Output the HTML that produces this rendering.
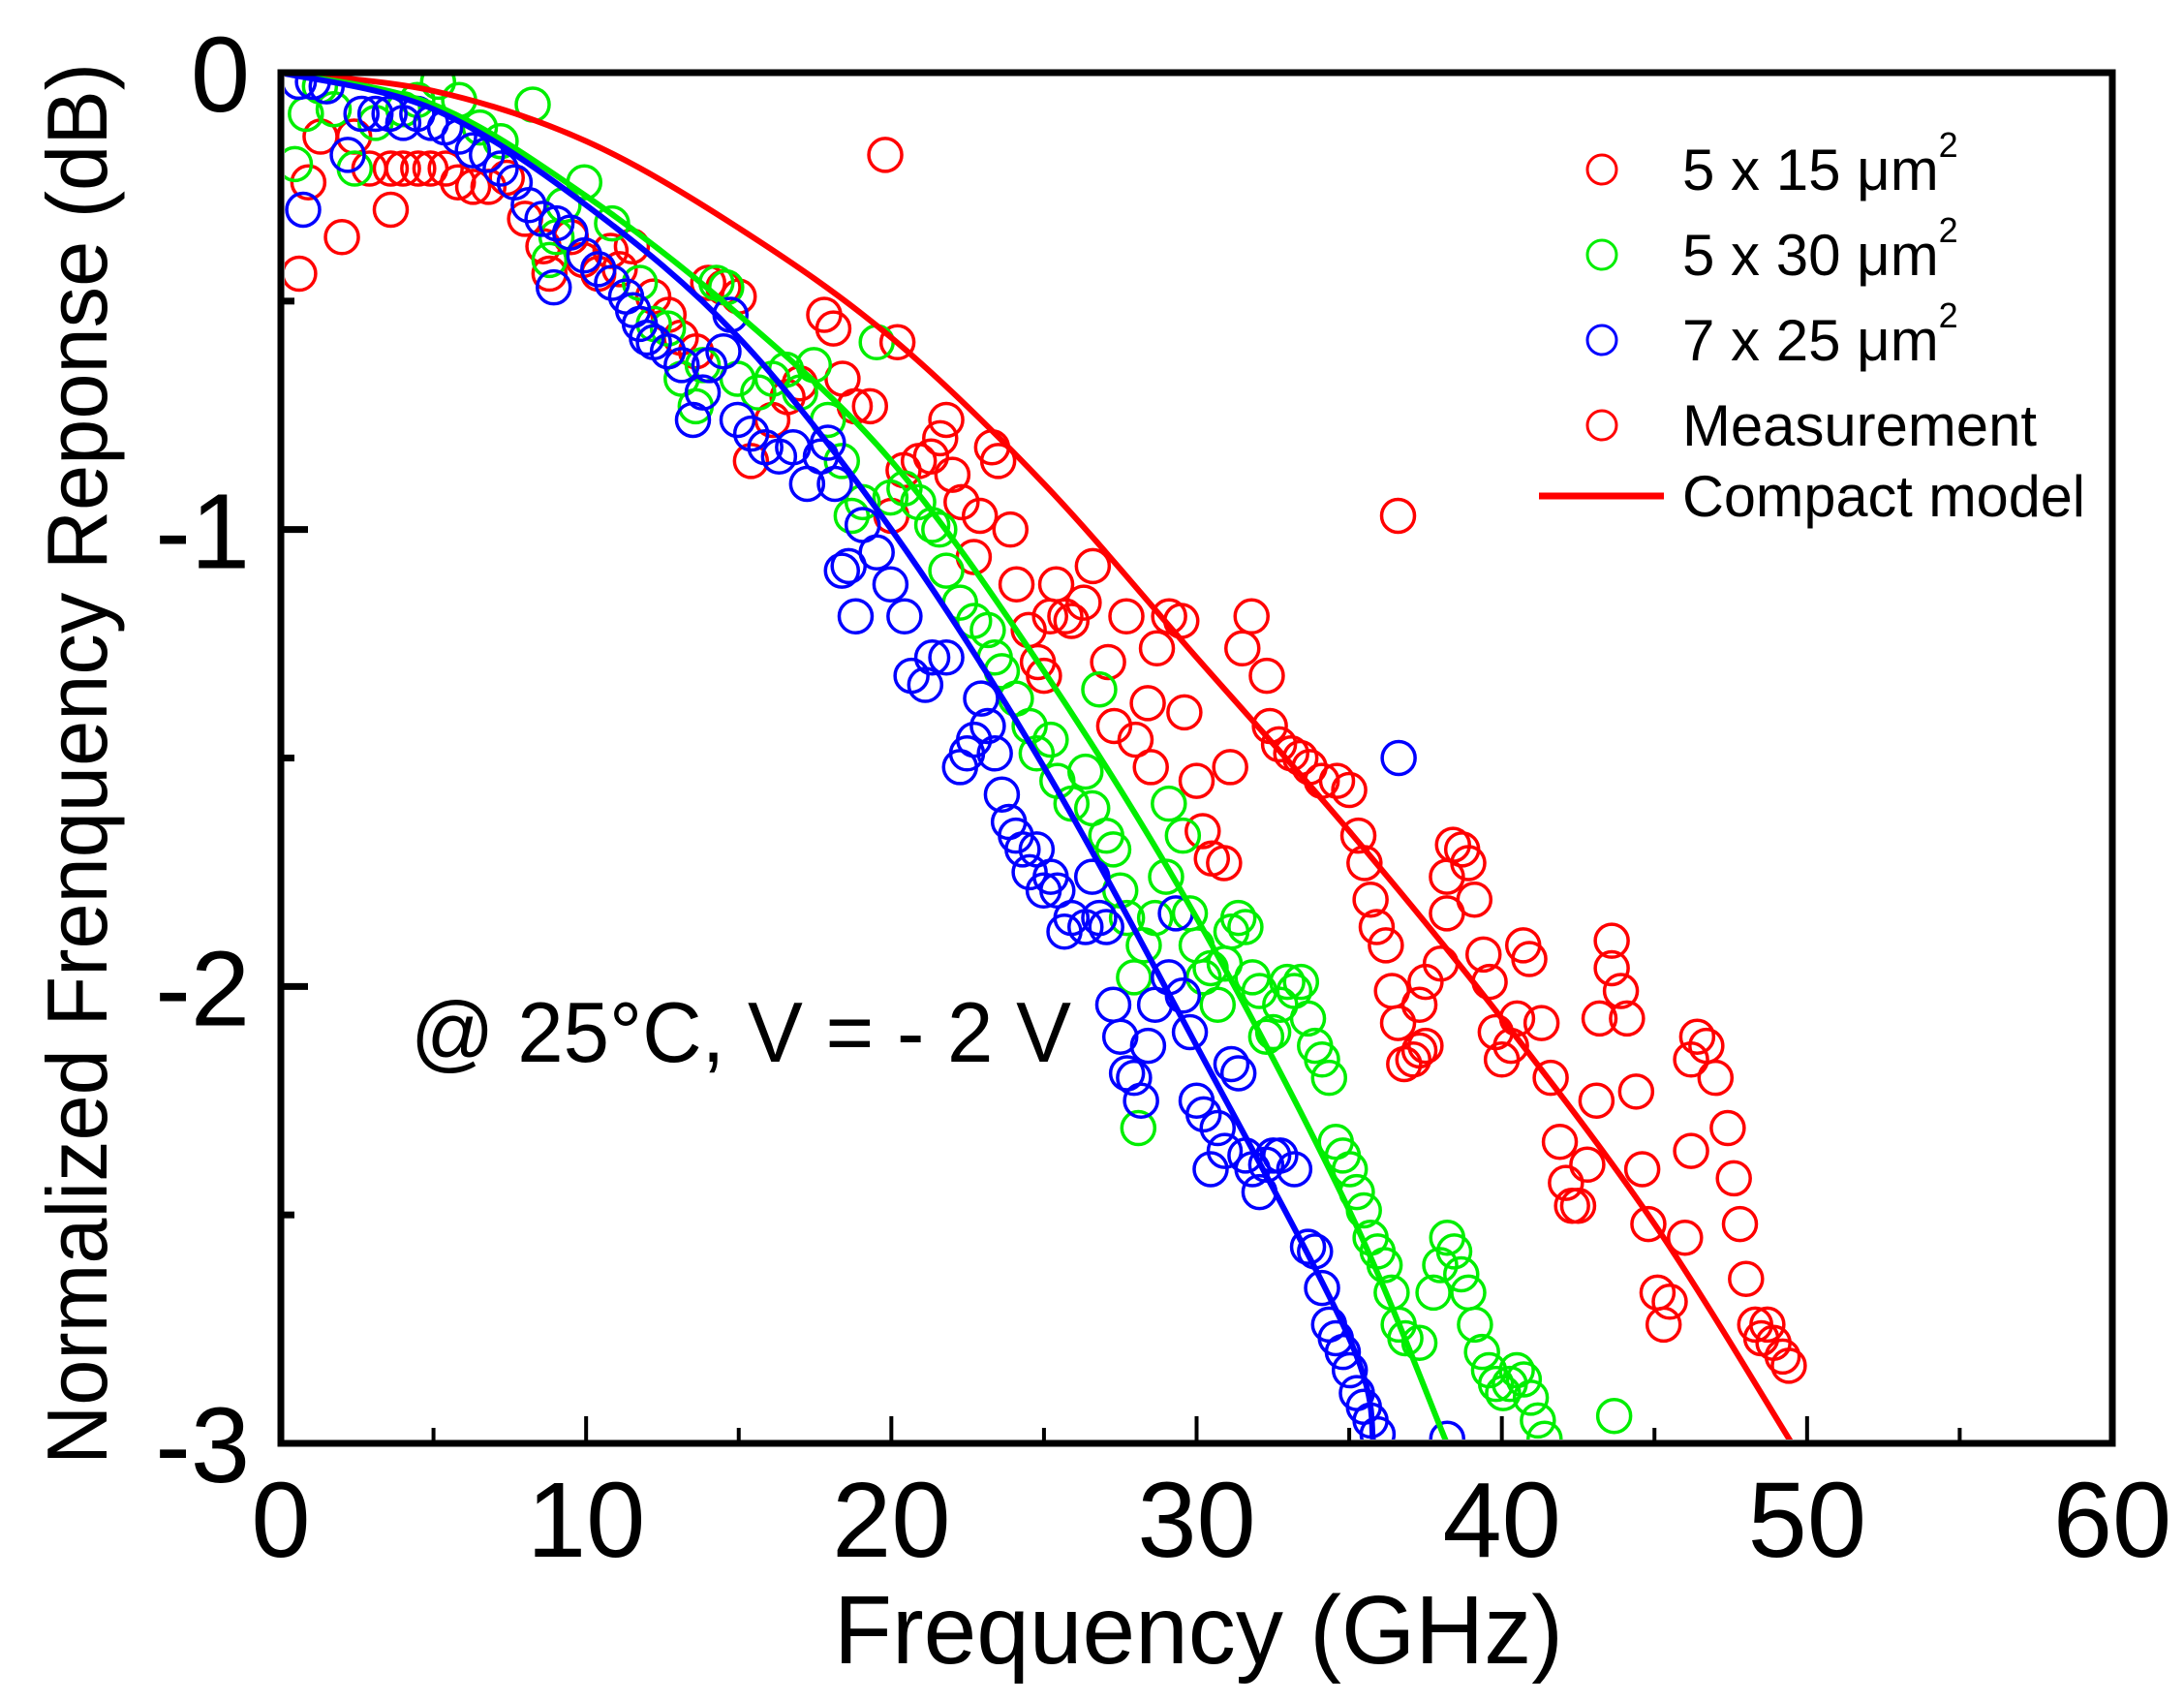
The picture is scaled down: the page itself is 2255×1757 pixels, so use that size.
<!DOCTYPE html>
<html><head><meta charset="utf-8"><title>Normalized Frequency Response</title>
<style>html,body{margin:0;padding:0;background:#fff}svg{display:block}</style></head>
<body>
<svg id="chart" xmlns="http://www.w3.org/2000/svg" width="2255" height="1757" viewBox="0 0 2255 1757" font-family="Liberation Sans, Arial, sans-serif">
<defs><clipPath id="plotclip"><rect x="294" y="78" width="1883" height="1408"/></clipPath></defs>
<rect x="0" y="0" width="2255" height="1757" fill="#fff"/>
<g id="marks" clip-path="url(#plotclip)"></g>
<g id="axes"></g>
<text x="861" y="1717" font-size="100" textLength="753" lengthAdjust="spacingAndGlyphs">Frequency (GHz)</text>
<text transform="translate(110,1512) rotate(-90)" x="0" y="0" font-size="88" textLength="1447" lengthAdjust="spacingAndGlyphs">Normalized Frenquency Reponse (dB)</text>
<text x="424" y="1096" font-size="88" textLength="682" lengthAdjust="spacingAndGlyphs">@ 25°C, V = - 2 V</text>
<g font-size="60">
 <g><circle cx="1654" cy="175" r="15" fill="none" stroke="#ff0000" stroke-width="3"/><text x="1737" y="196">5 x 15 μm<tspan font-size="36" dy="-34">2</tspan></text></g>
 <g><circle cx="1654" cy="263" r="15" fill="none" stroke="#00ee00" stroke-width="3"/><text x="1737" y="284">5 x 30 μm<tspan font-size="36" dy="-34">2</tspan></text></g>
 <g><circle cx="1654" cy="351" r="15" fill="none" stroke="#0000ff" stroke-width="3"/><text x="1737" y="372">7 x 25 μm<tspan font-size="36" dy="-34">2</tspan></text></g>
 <g><circle cx="1654" cy="439" r="15" fill="none" stroke="#ff0000" stroke-width="3"/><text x="1737" y="460" textLength="366" lengthAdjust="spacingAndGlyphs">Measurement</text></g>
 <g><line x1="1589" y1="512" x2="1718" y2="512" stroke="#ff0000" stroke-width="7"/><text x="1737" y="533" textLength="416" lengthAdjust="spacingAndGlyphs">Compact model</text></g>
</g>
</svg>
<script>
const xTicks=[0,10,20,30,40,50,60];
const yTicks=[0,-1,-2,-3];
const yTickLabels=["0","-1","-2","-3"];
const redF=[0.9,0.6,1.3,2.0,2.4,2.9,3.6,3.6,4.0,4.5,4.9,5.4,5.8,6.3,6.8,7.4,8.0,8.6,8.8,9.5,9.9,10.4,10.8,11.1,11.5,12.2,12.7,13.1,13.6,14.0,14.5,15.0,15.4,16.1,16.6,17.0,17.8,18.1,18.4,18.8,19.3,19.8,20.2,20.0,20.4,20.9,21.3,21.6,21.8,22.0,22.3,22.7,22.9,23.3,23.5,23.9,24.1,24.5,24.8,25.0,25.2,25.4,25.7,25.9,26.3,26.6,27.1,27.3,27.7,28.0,28.4,28.5,28.7,29.1,29.5,29.6,30.0,30.2,30.5,30.9,31.1,31.5,31.8,32.3,32.4,32.7,33.1,33.4,33.7,34.1,34.6,35.0,35.3,35.5,35.7,35.9,36.2,36.4,36.6,36.8,37.1,37.3,37.5,37.3,37.5,38.0,38.2,38.4,38.2,38.7,38.9,39.1,39.4,39.6,39.8,40.0,40.3,40.5,40.7,40.9,41.3,41.6,41.9,42.1,42.3,42.5,42.8,43.1,43.2,43.6,43.6,43.9,44.1,44.4,44.6,44.8,45.1,45.3,45.5,46.0,46.2,46.2,46.4,46.7,47.0,47.4,47.6,47.8,48.0,48.3,48.5,48.7,48.9,49.2,49.4,36.6];
const redD=[-0.24,-0.44,-0.14,-0.36,-0.14,-0.21,-0.21,-0.30,-0.21,-0.21,-0.21,-0.21,-0.24,-0.25,-0.25,-0.23,-0.32,-0.38,-0.44,-0.36,-0.41,-0.44,-0.39,-0.43,-0.38,-0.49,-0.53,-0.58,-0.61,-0.46,-0.47,-0.49,-0.85,-0.76,-0.71,-0.68,-0.53,-0.56,-0.67,-0.73,-0.73,-0.18,-0.59,-0.97,-0.87,-0.85,-0.84,-0.80,-0.76,-0.88,-0.94,-1.06,-0.97,-0.82,-0.85,-1.00,-1.12,-1.22,-1.29,-1.32,-1.19,-1.12,-1.19,-1.20,-1.16,-1.08,-1.29,-1.43,-1.19,-1.46,-1.38,-1.52,-1.26,-1.19,-1.20,-1.40,-1.55,-1.66,-1.72,-1.73,-1.52,-1.26,-1.19,-1.32,-1.43,-1.47,-1.49,-1.50,-1.52,-1.55,-1.55,-1.57,-1.67,-1.73,-1.81,-1.87,-1.91,-2.01,-2.08,-2.17,-2.16,-2.14,-2.13,-2.04,-1.99,-1.95,-1.84,-1.69,-1.76,-1.70,-1.73,-1.81,-1.93,-1.99,-2.10,-2.16,-2.13,-2.07,-1.91,-1.94,-2.08,-2.20,-2.34,-2.43,-2.48,-2.48,-2.39,-2.25,-2.07,-1.90,-1.96,-2.01,-2.07,-2.23,-2.40,-2.52,-2.67,-2.74,-2.69,-2.55,-2.36,-2.16,-2.11,-2.13,-2.20,-2.31,-2.42,-2.52,-2.64,-2.74,-2.77,-2.74,-2.78,-2.81,-2.83,-0.97];
const greenF=[0.46,0.82,1.28,1.73,2.42,3.10,4.01,4.47,5.15,5.84,6.52,7.20,8.25,8.80,9.03,9.26,9.94,10.85,11.76,12.22,12.68,13.13,13.59,13.82,14.27,14.59,14.96,15.64,16.10,16.55,17.01,17.46,17.92,18.38,18.70,19.06,19.52,19.97,20.43,20.88,21.34,21.57,21.80,22.25,22.71,23.16,23.39,23.62,24.08,24.53,24.76,25.22,25.44,25.90,26.36,26.58,26.81,27.04,27.27,27.50,27.72,27.95,28.09,28.27,28.64,29.00,29.09,29.55,29.78,30.00,30.23,30.46,30.69,30.92,31.14,31.37,31.60,31.83,32.06,32.28,32.51,32.74,32.97,33.20,33.42,33.65,33.88,34.11,34.34,34.56,34.79,35.02,35.25,35.48,35.70,35.93,36.16,36.39,36.62,36.84,37.30,37.76,37.98,38.21,38.44,38.67,38.90,39.12,39.35,39.58,39.81,40.04,40.26,40.49,40.72,40.95,41.18,41.40,43.68];
const greenD=[-0.20,-0.09,-0.03,-0.08,-0.21,-0.11,-0.08,-0.06,-0.02,-0.06,-0.12,-0.15,-0.07,-0.41,-0.36,-0.29,-0.24,-0.33,-0.46,-0.55,-0.56,-0.67,-0.73,-0.64,-0.46,-0.47,-0.67,-0.70,-0.67,-0.65,-0.70,-0.64,-0.76,-0.85,-0.97,-0.94,-0.59,-0.93,-0.91,-0.94,-0.99,-1.00,-1.09,-1.16,-1.20,-1.22,-1.28,-1.31,-1.37,-1.43,-1.49,-1.46,-1.55,-1.60,-1.53,-1.61,-1.35,-1.67,-1.70,-1.79,-1.85,-1.98,-2.31,-1.91,-1.85,-1.76,-1.60,-1.67,-1.84,-1.91,-1.98,-1.96,-2.04,-1.95,-1.88,-1.85,-1.87,-1.98,-2.01,-2.11,-2.10,-2.04,-1.99,-2.01,-1.99,-2.07,-2.13,-2.16,-2.20,-2.34,-2.37,-2.40,-2.45,-2.49,-2.55,-2.58,-2.61,-2.67,-2.74,-2.77,-2.78,-2.67,-2.61,-2.55,-2.58,-2.63,-2.67,-2.74,-2.80,-2.84,-2.87,-2.89,-2.87,-2.84,-2.86,-2.90,-2.95,-2.99,-2.94];
const blueF=[0.59,0.73,1.05,1.50,2.19,2.64,3.10,3.56,4.01,4.47,4.92,5.38,5.84,6.29,6.75,7.20,7.66,8.12,8.57,8.94,9.03,9.48,9.94,10.40,10.85,11.31,11.54,11.76,11.99,12.22,12.68,13.13,13.50,13.82,14.04,14.50,14.73,14.96,15.41,15.87,16.32,16.78,17.24,17.69,17.92,18.15,18.38,18.60,18.83,19.06,19.52,19.97,20.43,20.66,21.11,21.34,21.80,22.25,22.48,22.71,22.94,23.16,23.39,23.62,23.85,24.08,24.30,24.53,24.76,24.99,25.22,25.44,25.67,25.90,26.36,26.58,26.81,27.04,27.27,27.50,27.72,27.95,28.18,28.41,28.64,29.09,29.32,29.55,29.78,30.00,30.23,30.46,30.69,30.92,31.14,31.37,31.60,31.83,32.06,32.28,32.51,32.74,33.20,33.65,33.88,34.11,34.34,34.56,34.79,35.02,35.25,35.48,35.70,35.93,36.62,38.21];
const blueD=[-0.02,-0.30,-0.02,-0.03,-0.18,-0.09,-0.09,-0.09,-0.11,-0.09,-0.11,-0.12,-0.14,-0.17,-0.18,-0.21,-0.24,-0.29,-0.32,-0.47,-0.33,-0.35,-0.40,-0.43,-0.46,-0.49,-0.52,-0.55,-0.58,-0.59,-0.61,-0.64,-0.76,-0.70,-0.64,-0.61,-0.53,-0.76,-0.79,-0.82,-0.84,-0.82,-0.90,-0.84,-0.81,-0.90,-1.09,-1.08,-1.19,-0.99,-1.05,-1.12,-1.19,-1.32,-1.34,-1.28,-1.28,-1.52,-1.49,-1.46,-1.37,-1.43,-1.49,-1.58,-1.64,-1.67,-1.70,-1.75,-1.70,-1.79,-1.76,-1.79,-1.88,-1.85,-1.87,-1.76,-1.85,-1.87,-2.04,-2.11,-2.19,-2.20,-2.25,-2.13,-2.04,-1.98,-1.84,-2.02,-2.10,-2.25,-2.28,-2.40,-2.31,-2.36,-2.17,-2.19,-2.37,-2.40,-2.45,-2.39,-2.37,-2.37,-2.40,-2.57,-2.58,-2.66,-2.74,-2.77,-2.80,-2.84,-2.89,-2.92,-2.95,-2.98,-1.50,-2.99];
const redModelF=[0,5,10,15,20,25,30,35,40,45,49.5];
const redModelD=[0,-0.04,-0.15,-0.34,-0.58,-0.90,-1.28,-1.66,-2.07,-2.52,-3.0];
const greenModelF=[0,5,10,15,20,25,30,35,38.2];
const greenModelD=[0,-0.07,-0.27,-0.53,-0.85,-1.31,-1.85,-2.49,-3.0];
const blueModelF=[0,5,10,15,20,25,30,35,35.8];
const blueModelD=[0,-0.08,-0.29,-0.58,-1.0,-1.52,-2.13,-2.77,-3.0];

const NS='http://www.w3.org/2000/svg';
const X0=290,X1=2181,Y0=75,Y1=1490;
function xs(f){return X0+(f-0)/(60-0)*(X1-X0);}
function ys(d){return Y0+(0-d)/(0-(-3))*(Y1-Y0);}
function mk(tag,attrs,parent){const e=document.createElementNS(NS,tag);for(const k in attrs)e.setAttribute(k,attrs[k]);parent.appendChild(e);return e;}
const marks=document.getElementById('marks');
const axes=document.getElementById('axes');

function scatter(F,D,color,name){
  const g=mk('g',{},marks);
  
  
  for(let i=0;i<F.length;i++){
    const c=mk('circle',{cx:xs(F[i]),cy:ys(D[i]),r:17,fill:'none',stroke:color,'stroke-width':3.5},g);
    
    
  }
}
function curve(F,D,color,name){
  const P=F.map((f,i)=>[xs(f),ys(D[i])]);
  let d='M'+P[0][0]+','+P[0][1];
  for(let i=0;i<P.length-1;i++){
    const p0=P[Math.max(0,i-1)],p1=P[i],p2=P[i+1],p3=P[Math.min(P.length-1,i+2)];
    const c1=[p1[0]+(p2[0]-p0[0])/6,p1[1]+(p2[1]-p0[1])/6];
    const c2=[p2[0]-(p3[0]-p1[0])/6,p2[1]-(p3[1]-p1[1])/6];
    d+=' C'+c1[0]+','+c1[1]+' '+c2[0]+','+c2[1]+' '+p2[0]+','+p2[1];
  }
  const p=mk('path',{d:d,fill:'none',stroke:color,'stroke-width':6},marks);
  
  
}
scatter(redF,redD,'#ff0000','red-5x15');
scatter(greenF,greenD,'#00ee00','green-5x30');
scatter(blueF,blueD,'#0000ff','blue-7x25');
curve(redModelF,redModelD,'#ff0000','red-5x15');
curve(greenModelF,greenModelD,'#00ee00','green-5x30');
curve(blueModelF,blueModelD,'#0000ff','blue-7x25');

const frame=mk('rect',{x:X0,y:Y0,width:X1-X0,height:Y1-Y0,fill:'none',stroke:'#000','stroke-width':7},axes);


for(let v=0;v<=60;v+=5){
  const major=v%10===0;
  const t=mk('line',{x1:xs(v),y1:Y1,x2:xs(v),y2:Y1-(major?28:16),stroke:'#000','stroke-width':4},axes);
  
  
}
for(let v=0;v>=-3;v-=0.5){
  const major=Math.abs(v%1)<1e-9;
  const t=mk('line',{x1:X0,y1:ys(v),x2:X0+(major?28:14),y2:ys(v),stroke:'#000','stroke-width':7},axes);
  
  
}
xTicks.forEach(v=>{
  const t=mk('text',{x:xs(v),y:1607,'font-size':110,'text-anchor':'middle'},axes);
  t.textContent=String(v);
  
  
});
yTicks.forEach((v,i)=>{
  const t=mk('text',{x:258,y:ys(v)+40,'font-size':110,'text-anchor':'end'},axes);
  t.textContent=yTickLabels[i];
  
  
});
</script>
</body></html>
